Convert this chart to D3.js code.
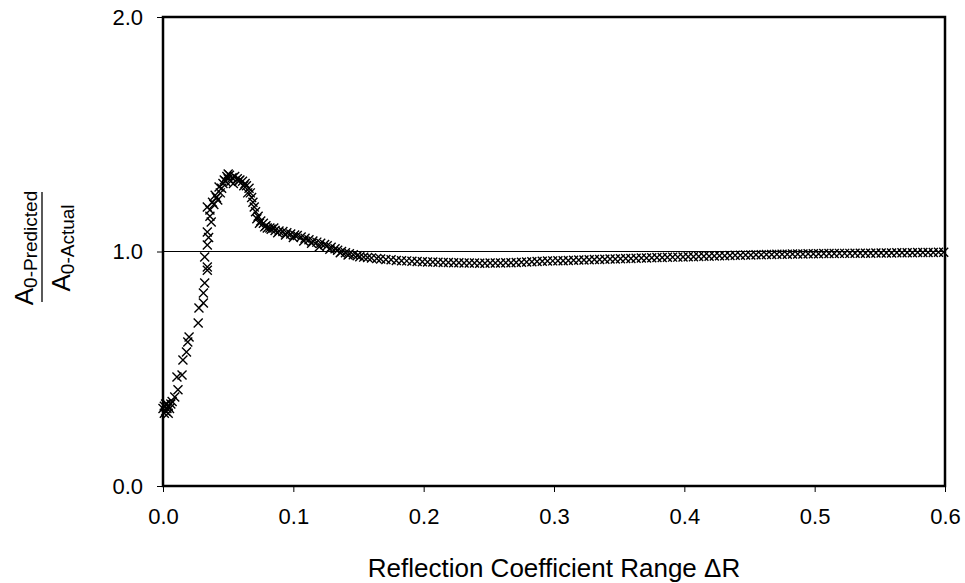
<!DOCTYPE html>
<html>
<head>
<meta charset="utf-8">
<script src="https://cdn.jsdelivr.net/npm/d3@7"></script>
<style>
  body { margin: 0; background: #fff; }
  text { font-family: Arial, "Liberation Sans", sans-serif; fill: #000; }
</style>
</head>
<body>
<div id="container"></div>
<script>
let w = 965;
let h = 583;

// reflection coefficient range (x) and predicted / actual ratio (y)
let deltaR = [
  0.000, 0.001, 0.001, 0.002, 0.002, 0.003, 0.003, 0.004, 0.004, 0.005, 0.006, 0.007,
  0.009, 0.0115, 0.0107, 0.0146, 0.0153, 0.018, 0.019, 0.020, 0.027, 0.0276, 0.031, 0.031,
  0.032, 0.034, 0.034, 0.032, 0.034, 0.035, 0.034, 0.037, 0.036, 0.034, 0.039, 0.042,
  0.040, 0.044, 0.043, 0.046, 0.047, 0.049, 0.050, 0.051, 0.052, 0.053, 0.055, 0.057,
  0.059, 0.061, 0.063, 0.064, 0.066, 0.067, 0.068, 0.069, 0.070, 0.071, 0.073, 0.075,
  0.077, 0.078, 0.080, 0.083, 0.086, 0.089, 0.092, 0.095, 0.098, 0.101, 0.103, 0.106,
  0.109, 0.112, 0.115, 0.118, 0.121, 0.124, 0.126, 0.129, 0.132, 0.134, 0.137, 0.140,
  0.143, 0.146, 0.149, 0.151, 0.154, 0.157, 0.160, 0.164,
  0.036, 0.038, 0.041, 0.045, 0.048, 0.050, 0.054, 0.058, 0.062, 0.065, 0.072, 0.074,
  0.079, 0.082, 0.085, 0.088, 0.094, 0.100, 0.108, 0.114, 0.120, 0.128, 0.136, 0.142,
  0.167, 0.171, 0.175, 0.179, 0.183, 0.187, 0.191, 0.195, 0.199, 0.203, 0.207, 0.211,
  0.215, 0.219, 0.223, 0.227, 0.231, 0.235, 0.239, 0.243, 0.247, 0.251, 0.255, 0.259,
  0.263, 0.267, 0.271, 0.275, 0.279, 0.283, 0.287, 0.291, 0.295, 0.299, 0.303, 0.307,
  0.311, 0.315, 0.319, 0.323, 0.327, 0.331, 0.335, 0.339, 0.343, 0.347, 0.351, 0.355,
  0.359, 0.363, 0.367, 0.371, 0.375, 0.379, 0.383, 0.387, 0.391, 0.395, 0.399, 0.403,
  0.407, 0.411, 0.415, 0.419, 0.423, 0.427, 0.431, 0.435, 0.439, 0.443, 0.447, 0.451,
  0.455, 0.459, 0.463, 0.467, 0.471, 0.475, 0.479, 0.483, 0.487, 0.491, 0.495, 0.499,
  0.503, 0.507, 0.511, 0.515, 0.519, 0.523, 0.527, 0.531, 0.535, 0.539, 0.543, 0.547,
  0.551, 0.555, 0.559, 0.563, 0.567, 0.571, 0.575, 0.579, 0.583, 0.587, 0.591, 0.595, 0.599
];
let ratio = [
  0.33, 0.34, 0.31, 0.35, 0.32, 0.33, 0.35, 0.31, 0.34, 0.33, 0.35, 0.36,
  0.38, 0.41, 0.465, 0.473, 0.537, 0.571, 0.614, 0.635, 0.695, 0.759, 0.78, 0.823,
  0.866, 0.92, 0.934, 0.977, 1.028, 1.06, 1.083, 1.126, 1.177, 1.19, 1.20, 1.22,
  1.24, 1.25, 1.275, 1.29, 1.305, 1.32, 1.31, 1.325, 1.30, 1.315, 1.32, 1.31,
  1.305, 1.30, 1.29, 1.28, 1.27, 1.25, 1.23, 1.21, 1.19, 1.17, 1.15, 1.13,
  1.12, 1.105, 1.10, 1.095, 1.09, 1.087, 1.085, 1.08, 1.075, 1.07, 1.068, 1.062,
  1.057, 1.05, 1.045, 1.04, 1.035, 1.03, 1.025, 1.018, 1.012, 1.005, 1.00, 0.995,
  0.99, 0.986, 0.982, 0.978, 0.976, 0.974, 0.972, 0.970,
  1.15, 1.21, 1.23, 1.27, 1.30, 1.33, 1.29, 1.30, 1.28, 1.25, 1.14, 1.12,
  1.11, 1.10, 1.10, 1.08, 1.07, 1.06, 1.045, 1.035, 1.02, 1.01, 0.995, 0.985,
  0.968, 0.966, 0.965, 0.962, 0.961, 0.960, 0.958, 0.957, 0.956, 0.955, 0.955, 0.954,
  0.953, 0.953, 0.952, 0.952, 0.951, 0.951, 0.951, 0.950, 0.950, 0.951, 0.951, 0.951,
  0.952, 0.952, 0.953, 0.954, 0.955, 0.956, 0.957, 0.958, 0.959, 0.960, 0.961, 0.961,
  0.962, 0.963, 0.964, 0.964, 0.965, 0.966, 0.966, 0.967, 0.968, 0.968, 0.969, 0.970,
  0.970, 0.971, 0.972, 0.972, 0.973, 0.974, 0.974, 0.975, 0.976, 0.976, 0.977, 0.978,
  0.978, 0.979, 0.980, 0.980, 0.981, 0.982, 0.982, 0.983, 0.984, 0.984, 0.985, 0.985,
  0.986, 0.986, 0.987, 0.987, 0.988, 0.988, 0.988, 0.989, 0.989, 0.989, 0.990, 0.990,
  0.990, 0.991, 0.991, 0.991, 0.992, 0.992, 0.992, 0.993, 0.993, 0.993, 0.993, 0.994,
  0.994, 0.994, 0.994, 0.995, 0.995, 0.995, 0.995, 0.996, 0.996, 0.996, 0.996, 0.997, 0.997
];

let xTicks = [0, 0.1, 0.2, 0.3, 0.4, 0.5, 0.6];
let yTicks = [0, 1, 2];
let xTitle = "Reflection Coefficient Range \u0394R";

let margin = {left: 163, right: 20, top: 17, bottom: 97};

let viz = d3.select("#container")
  .append("svg")
    .attr("width", w)
    .attr("height", h)
    .style("background-color", "white")
;

let xScale = d3.scaleLinear().domain([0, 0.6]).range([margin.left, w - margin.right]);
let yScale = d3.scaleLinear().domain([0, 2]).range([h - margin.bottom, margin.top]);

// x axis
let xAxis = d3.axisBottom(xScale).tickValues(xTicks).tickFormat(d3.format(".1f")).tickSize(6).tickPadding(16);
let xAxisGroup = viz.append("g").attr("class", "xaxis")
  .attr("transform", "translate(0," + (h - margin.bottom) + ")")
  .call(xAxis);

// y axis
let yAxis = d3.axisLeft(yScale).tickValues(yTicks).tickFormat(d3.format(".1f")).tickSize(6).tickPadding(14);
let yAxisGroup = viz.append("g").attr("class", "yaxis")
  .attr("transform", "translate(" + margin.left + ",0)")
  .call(yAxis);

viz.selectAll(".xaxis .domain, .yaxis .domain").remove();
viz.selectAll(".tick line").attr("stroke", "#000").attr("stroke-width", 1);
viz.selectAll(".tick text").style("font-size", "22px").attr("fill", "#000");

// reference line at 1.0
viz.append("line")
  .attr("x1", xScale(0)).attr("x2", xScale(0.6))
  .attr("y1", yScale(1)).attr("y2", yScale(1))
  .attr("stroke", "#000").attr("stroke-width", 1.2);

// data markers
let points = deltaR.map(function(d, i){ return {x: d, y: ratio[i]}; });
let s = 4.5;
viz.append("g").attr("class", "points")
  .selectAll("path").data(points).enter()
  .append("path")
    .attr("d", "M" + (-s) + "," + (-s) + "L" + s + "," + s + "M" + (-s) + "," + s + "L" + s + "," + (-s))
    .attr("transform", function(d){ return "translate(" + xScale(d.x) + "," + yScale(d.y) + ")"; })
    .attr("stroke", "#000")
    .attr("stroke-width", 1.4)
    .attr("fill", "none")
;

// plot frame
viz.append("rect")
  .attr("x", xScale(0)).attr("y", yScale(2))
  .attr("width", xScale(0.6) - xScale(0))
  .attr("height", yScale(0) - yScale(2))
  .attr("fill", "none").attr("stroke", "#000").attr("stroke-width", 2.5);

// x title
viz.append("text")
  .attr("x", (xScale(0) + xScale(0.6)) / 2)
  .attr("y", 577)
  .attr("text-anchor", "middle")
  .style("font-size", "26px")
  .text(xTitle);

// y title: A0-Predicted / A0-Actual as rotated fraction
let yMid = -248;
let yTitle = viz.append("g").attr("transform", "rotate(-90)");
let num = yTitle.append("text").attr("x", yMid).attr("y", 33)
  .attr("text-anchor", "middle").style("font-size", "26px");
num.append("tspan").text("A");
num.append("tspan").attr("dy", 4).style("font-size", "19px").text("0-Predicted");
let den = yTitle.append("text").attr("x", yMid).attr("y", 70)
  .attr("text-anchor", "middle").style("font-size", "26px");
den.append("tspan").text("A");
den.append("tspan").attr("dy", 4).style("font-size", "19px").text("0-Actual");
yTitle.append("line")
  .attr("x1", -302).attr("x2", -192)
  .attr("y1", 42).attr("y2", 42)
  .attr("stroke", "#000").attr("stroke-width", 1.3);
</script>
</body>
</html>
